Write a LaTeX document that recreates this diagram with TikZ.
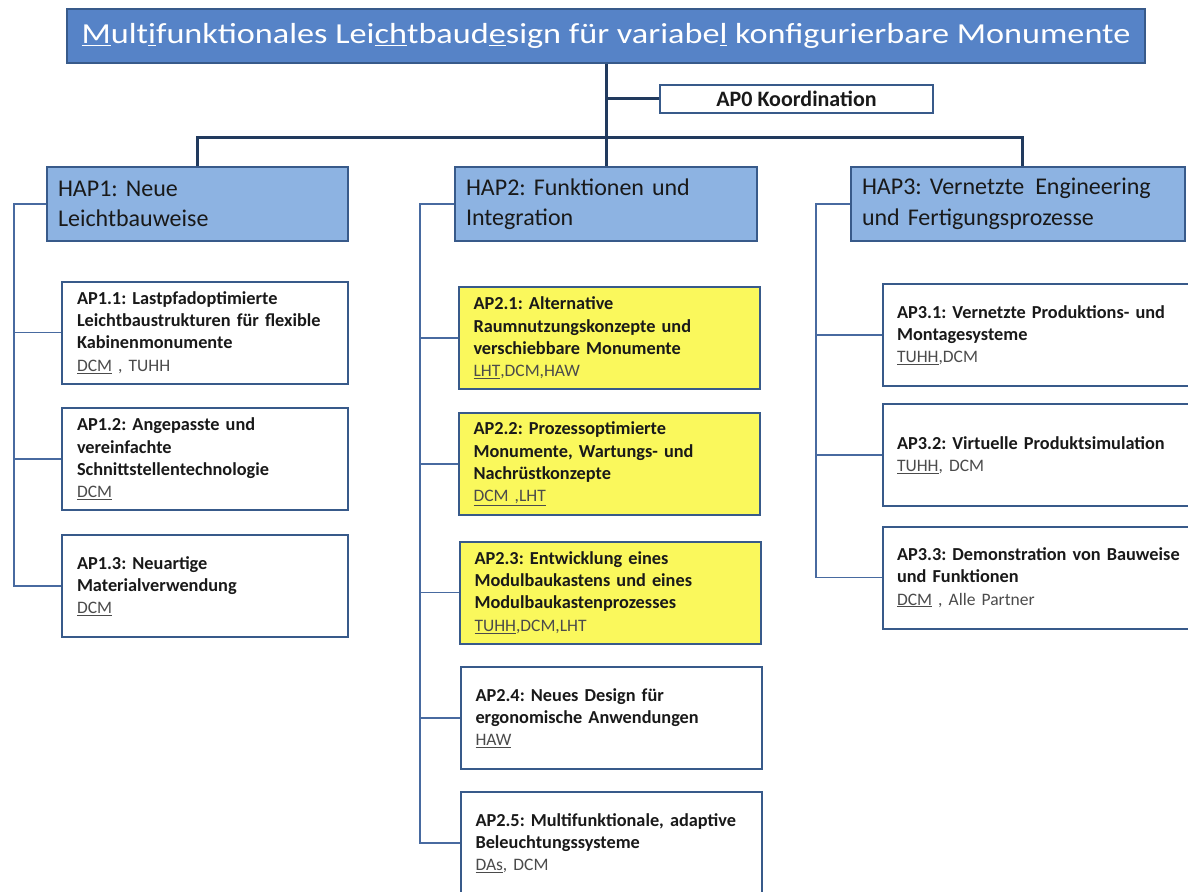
\documentclass[tikz,border=0pt]{standalone}
\usepackage{fontspec}
\setmainfont{Carlito}
\newfontfamily\titlefont[FakeStretch=1.18]{Carlito}
\definecolor{titlec}{RGB}{86,131,199}
\definecolor{hapc}{RGB}{141,179,226}
\definecolor{bordc}{RGB}{56,90,138}
\definecolor{trunkc}{RGB}{33,58,94}
\definecolor{spinec}{RGB}{72,106,160}
\definecolor{yelc}{RGB}{250,248,92}
\definecolor{txtc}{RGB}{25,25,25}
\definecolor{partc}{RGB}{75,75,75}
\newcommand{\ul}[1]{\underline{#1}}
\newcommand{\partners}[1]{{\mdseries\fontsize{17.5}{22.3}\selectfont\color{partc}#1}}
\frenchspacing
\begin{document}
\begin{tikzpicture}[x=1pt,y=-1pt,
  trunk/.style={draw=trunkc,line width=3pt},
  spine/.style={draw=spinec,line width=1.6pt},
  titlebox/.style={draw=bordc,fill=titlec,line width=2pt,minimum width=1078pt,minimum height=54pt,inner sep=0pt,text=white,font=\titlefont\fontsize{29}{34}\selectfont},
  hapbox/.style={draw=bordc,fill=hapc,line width=2pt,inner xsep=11pt,inner ysep=0pt,text width=#1,minimum height=74pt,align=left,text=txtc,font=\fontsize{24}{30.5}\selectfont},
  apbox/.style={draw=bordc,fill=white,line width=2pt,inner xsep=15pt,inner ysep=0pt,text width=#1,minimum height=102pt,align=left,text=txtc,font=\fontsize{18.3}{22.3}\selectfont\bfseries},
  apzero/.style={draw=bordc,fill=white,line width=2pt,minimum width=273pt,minimum height=28pt,inner sep=0pt,text=txtc,font=\fontsize{22}{22}\selectfont\bfseries}
]
\useasboundingbox (0,0) rectangle (1188,891);
\clip (0,0) rectangle (1188,891);
\fill[white] (0,0) rectangle (1188,891);

% title and coordination
\node[titlebox] (title) at (606,36) {\ul{M}ult\ul{i}funktionales Lei\ul{ch}tbaud\ul{e}sign für variabe\ul{l} konfigurierbare Monumente};
\node[apzero] (ap0) at (796.5,98.5) {AP0 Koordination};

% HAP boxes
\node[hapbox=279pt] (hap1) at (197.5,204) {HAP1: Neue\\Leichtbauweise};
\node[hapbox=280pt] (hap2) at (606,204) {HAP2: Funktionen und\\Integration};
\node[hapbox=312pt] (hap3) at (1018,204) {HAP3: Vernetzte\hspace{3pt} Engineering\\und Fertigungsprozesse};

% trunk connectors
\coordinate (j1) at (197.5,137);
\coordinate (j3) at (1022,137);
\draw[trunk] (title.south) -- (title.south |- hap2.north);
\draw[trunk] (ap0.west) -- (ap0.west -| title.south);
\draw[trunk] (hap1.north) -- (j1) -- (j3) -- (j3 |- hap3.north);

% AP1 boxes
\node[apbox=256pt] (ap11) at (205,332.5) {AP1.1: Lastpfadoptimierte\\Leichtbaustrukturen für flexible\\Kabinenmonumente\\\partners{\ul{DCM} , TUHH}};
\node[apbox=256pt] (ap12) at (205,459) {AP1.2: Angepasste und\\vereinfachte\\Schnittstellentechnologie\\\partners{\ul{DCM}}};
\node[apbox=256pt] (ap13) at (205,586) {AP1.3: Neuartige\\Materialverwendung\\\partners{\ul{DCM}}};

% AP2 boxes
\node[apbox=271pt,fill=yelc] (ap21) at (609,338) {AP2.1: Alternative\\Raumnutzungskonzepte und\\verschiebbare Monumente\\\partners{\ul{LHT},DCM,HAW}};
\node[apbox=271pt,fill=yelc] (ap22) at (609,464) {AP2.2: Prozessoptimierte\\Monumente, Wartungs- und\\Nachrüstkonzepte\\\partners{\ul{DCM ,LHT}}};
\node[apbox=271pt,fill=yelc] (ap23) at (610,592.5) {AP2.3: Entwicklung eines\\Modulbaukastens und eines\\Modulbaukastenprozesses\\\partners{\ul{TUHH},DCM,LHT}};
\node[apbox=271pt] (ap24) at (611,718) {AP2.4: Neues Design für\\ergonomische Anwendungen\\\partners{\ul{HAW}}};
\node[apbox=271pt] (ap25) at (611,843) {AP2.5: Multifunktionale, adaptive\\Beleuchtungssysteme\\\partners{\ul{DAs}, DCM}};

% AP3 boxes
\node[apbox=290pt,inner xsep=14pt] (ap31) at (1042,335) {AP3.1: Vernetzte Produktions- und\\Montagesysteme\\\partners{\ul{TUHH},DCM}};
\node[apbox=290pt,inner xsep=14pt] (ap32) at (1042,455) {AP3.2: Virtuelle Produktsimulation\\\partners{\ul{TUHH}, DCM}};
\node[apbox=290pt,inner xsep=14pt] (ap33) at (1042,577.5) {AP3.3: Demonstration von Bauweise\\und Funktionen\\\partners{\ul{DCM} , Alle Partner}};

% side spines
\coordinate (s1) at (14,0);
\coordinate (s2) at (420,0);
\coordinate (s3) at (816,0);
\draw[spine] (hap1.west) -- (hap1.west -| s1) -- (s1 |- ap13.west) -- (ap13.west);
\draw[spine] (ap11.west) -- (ap11.west -| s1);
\draw[spine] (ap12.west) -- (ap12.west -| s1);
\draw[spine] (hap2.west) -- (hap2.west -| s2) -- (s2 |- ap25.west) -- (ap25.west);
\draw[spine] (ap21.west) -- (ap21.west -| s2);
\draw[spine] (ap22.west) -- (ap22.west -| s2);
\draw[spine] (ap23.west) -- (ap23.west -| s2);
\draw[spine] (ap24.west) -- (ap24.west -| s2);
\draw[spine] (hap3.west) -- (hap3.west -| s3) -- (s3 |- ap33.west) -- (ap33.west);
\draw[spine] (ap31.west) -- (ap31.west -| s3);
\draw[spine] (ap32.west) -- (ap32.west -| s3);
\end{tikzpicture}
\end{document}
